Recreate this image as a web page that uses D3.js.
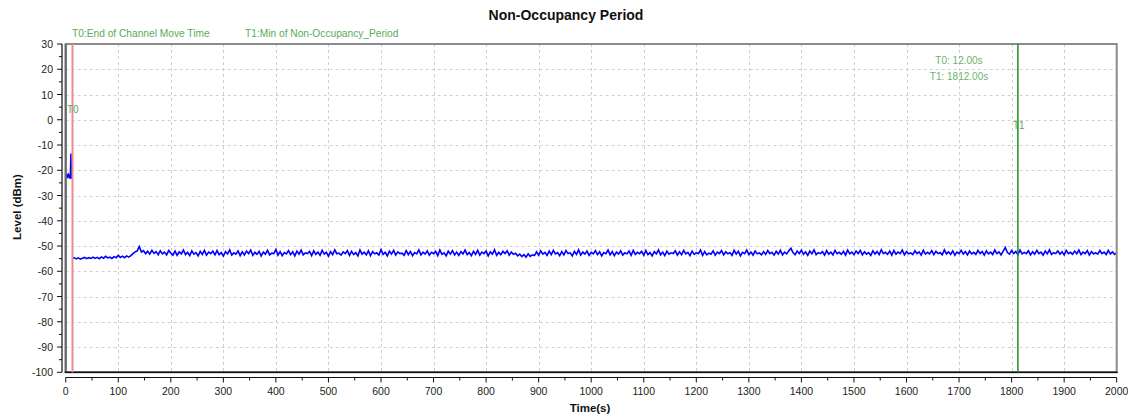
<!DOCTYPE html>
<html><head><meta charset="utf-8">
<script src="https://cdn.jsdelivr.net/npm/d3@7"></script>
<style>
html,body{margin:0;padding:0;background:#fff;}
svg text{font-family:"Liberation Sans",Arial,sans-serif;}
</style></head>
<body><svg id="c" width="1128" height="416"></svg>
<script>
// ---------- data ----------
const title = "Non-Occupancy Period";
const xLabel = "Time(s)";
const yLabel = "Level (dBm)";
const legendLabels = ["T0:End of Channel Move Time", "T1:Min of Non-Occupancy_Period"];
const markerTimes = [12, 1812];          // T0, T1 (s)
const markerNames = ["T0", "T1"];
const markerReadout = ["T0: 12.00s", "T1: 1812.00s"];
const xTicks = d3.range(0, 2001, 100);
const yTicks = d3.range(-100, 31, 10);

// before T0 (1 s samples starting at 0 s)
const preStart = 0, preStep = 1;
const preLevels = [-22.0,-22.4,-21.8,-22.6,-22.1,-21.7,-22.5,-22.2,-23.3,-21.9,-13.4,-23.5];

// from T0 (4 s samples starting at 12 s)
const postStart = 12, postStep = 4;
const postLevels = [
-55.0,-54.6,-55.1,-54.7,-55.2,-54.8,-54.5,-55.0,-54.6,-54.9,-54.4,-54.9,-54.5,-55.0,-54.3,-54.8,-54.1,-54.7,-54.4,-54.9,-54.2,-54.6,-53.7,-54.5,-54.0,-54.6,-53.9,-54.4,-53.8,
-53.0,-52.3,-52.0,-50.2,-52.4,-51.8,-53.0,-52.1,-53.2,-51.7,-52.9,-52.2,-53.4,-51.9,-53.1,-52.4,-53.5,-51.8,-52.8,-53.6,
-52.0,-53.7,-52.3,-53.1,-51.6,-53.4,-52.5,-53.8,-51.9,-53.2,-52.6,-53.9,-52.1,-53.3,-51.7,-53.6,-52.4,-53.0,-52.0,-53.5,
-51.8,-53.4,-52.6,-54.0,-52.2,-53.1,-51.5,-53.6,-52.7,-53.2,-51.9,-53.8,-52.3,-53.5,-52.0,-53.0,-51.6,-53.7,-52.5,-53.3,
-52.1,-53.9,-52.4,-53.2,-51.7,-53.5,-52.8,-53.0,-51.4,-53.6,-52.2,-53.8,-52.6,-53.1,-51.8,-53.4,-52.3,-53.9,-52.0,-53.2,
-51.6,-53.5,-52.7,-53.0,-52.1,-53.8,-51.9,-53.3,-52.4,-53.7,-51.7,-53.2,-52.5,-54.0,-52.2,-53.4,-51.5,-53.1,-52.8,-53.6,
-52.3,-53.0,-51.8,-53.7,-52.1,-53.4,-52.6,-53.9,-51.6,-53.2,-52.4,-53.5,-51.9,-53.8,-52.2,-53.1,-52.7,-53.6,-51.4,-53.3,
-52.5,-53.9,-52.0,-53.2,-51.7,-53.6,-52.3,-53.0,-52.8,-53.7,-51.8,-53.4,-52.2,-53.8,-52.6,-53.1,-51.5,-53.5,-52.4,-53.2,
-51.9,-53.6,-52.5,-53.0,-52.1,-53.8,-51.6,-53.3,-52.7,-53.9,-52.0,-53.2,-51.8,-53.5,-52.4,-53.7,-52.2,-53.1,-51.6,-53.4,
-52.6,-53.8,-52.1,-53.3,-51.7,-53.6,-52.4,-53.0,-52.0,-53.9,-52.3,-53.2,-51.5,-53.7,-52.5,-53.4,-52.1,-53.0,-51.9,-53.6,
-52.4,-53.3,-52.9,-53.9,-53.2,-54.2,-53.4,-54.4,-53.1,-54.1,-53.5,-53.8,-52.3,-53.6,-51.9,-53.2,-52.5,-53.7,-52.0,-53.4,
-51.7,-53.1,-52.6,-53.8,-52.2,-53.5,-51.8,-53.0,-52.7,-53.9,-52.1,-53.3,-51.5,-53.6,-52.4,-53.2,-52.0,-53.7,-52.5,-53.1,
-51.8,-53.4,-52.3,-53.9,-52.6,-53.0,-51.6,-53.5,-52.2,-53.8,-52.4,-53.2,-51.9,-53.6,-52.7,-53.1,-52.0,-53.7,-51.7,-53.3,
-52.5,-53.0,-52.1,-53.6,-51.8,-53.4,-52.6,-53.9,-52.2,-53.1,-51.5,-53.5,-52.4,-53.8,-52.0,-53.2,-52.7,-53.0,-51.9,-53.6,
-52.3,-53.4,-51.7,-53.1,-52.5,-53.8,-52.0,-53.3,-52.6,-53.0,-51.6,-53.7,-52.2,-53.5,-52.8,-53.2,-51.9,-53.6,-52.4,-53.0,
-51.8,-53.5,-52.3,-53.1,-52.6,-53.7,-51.7,-53.2,-52.1,-53.9,-52.5,-53.0,-51.6,-53.4,-52.4,-53.6,-52.0,-53.1,-52.7,-53.5,
-52.2,-53.3,-51.8,-53.0,-52.5,-53.6,-52.1,-53.2,-51.7,-53.5,-52.4,-53.1,-51.9,-50.9,-52.6,-53.4,-52.0,-53.0,-51.6,-53.3,
-52.3,-53.7,-52.0,-53.1,-51.5,-53.4,-52.6,-53.0,-52.2,-53.6,-51.8,-53.2,-52.4,-53.5,-51.7,-53.0,-52.5,-53.3,-52.1,-53.6,
-51.6,-53.1,-52.4,-53.4,-52.0,-53.0,-51.7,-53.5,-52.3,-53.2,-52.6,-53.7,-51.9,-53.1,-52.2,-53.4,-51.5,-53.0,-52.5,-53.3,
-52.0,-53.6,-51.8,-53.2,-52.4,-53.0,-51.6,-53.5,-52.2,-53.1,-52.7,-53.4,-51.9,-53.0,-52.3,-53.6,-51.7,-53.2,-52.5,-53.1,
-51.8,-53.4,-52.1,-53.0,-52.6,-53.5,-51.5,-53.1,-52.3,-53.3,-51.9,-53.6,-52.4,-53.0,-51.7,-53.2,-52.2,-53.5,-52.0,-53.1,
-52.5,-53.3,-51.7,-53.0,-52.2,-53.6,-51.9,-53.1,-52.4,-53.4,-51.6,-53.0,-52.3,-53.5,-52.0,-50.6,-52.6,-53.2,-51.8,-53.0,
-52.2,-53.4,-51.6,-53.1,-52.5,-53.0,-51.9,-53.5,-52.3,-53.2,-51.7,-53.0,-52.4,-53.6,-52.0,-53.1,-51.5,-53.3,-52.6,-53.0,
-51.9,-53.2,-52.3,-53.5,-51.7,-53.0,-52.5,-53.3,-52.0,-53.1,-51.6,-53.4,-52.4,-53.0,-51.8,-53.6,-52.2,-53.1,-52.6,-53.2,
-51.8,-53.0,-52.4,-53.4,-51.7,-53.1,-52.3,-53.3,-52.6
];

// ---------- layout ----------
const svg = d3.select("#c");
const L = 65.7, R = 1116.7, T = 44, B = 372.3;
const x = d3.scaleLinear().domain([0, 2000]).range([L, R]);
const y = d3.scaleLinear().domain([-100, 30]).range([B, T]);
const green = "#5aaa5a";

// title
svg.append("text").attr("x", 566).attr("y", 20).attr("text-anchor", "middle")
  .attr("font-size", 14).attr("font-weight", "bold").attr("fill", "#111").text(title);

// legend labels
svg.append("text").attr("x", 72).attr("y", 37).attr("font-size", 10.2).attr("fill", green).text(legendLabels[0]);
svg.append("text").attr("x", 245).attr("y", 37).attr("font-size", 10.2).attr("fill", green).text(legendLabels[1]);

// grid
const grid = svg.append("g").attr("stroke", "#cfcfcf").attr("stroke-dasharray", "3,3").attr("stroke-width", 1);
grid.selectAll("line.v").data(xTicks.filter(d => d > 0 && d < 2000)).join("line")
  .attr("x1", d => Math.round(x(d)) + 0.5).attr("x2", d => Math.round(x(d)) + 0.5).attr("y1", T).attr("y2", B);
grid.selectAll("line.h").data(yTicks.filter(d => d > -100 && d < 30)).join("line")
  .attr("y1", d => Math.round(y(d)) + 0.5).attr("y2", d => Math.round(y(d)) + 0.5).attr("x1", L).attr("x2", R);

// plot frame
svg.append("rect").attr("x", L).attr("y", T).attr("width", R - L).attr("height", B - T)
  .attr("fill", "none").attr("stroke", "#8c8c8c").attr("stroke-width", 2);
svg.append("line").attr("x1", L).attr("x2", L).attr("y1", T).attr("y2", B).attr("stroke", "#666").attr("stroke-width", 2);
svg.append("line").attr("x1", L - 1).attr("x2", R + 1).attr("y1", B).attr("y2", B).attr("stroke", "#111").attr("stroke-width", 1.5);

// data lines
svg.append("clipPath").attr("id", "pc").append("rect")
  .attr("x", L + 1).attr("y", T + 1).attr("width", R - L - 2).attr("height", B - T - 2);
const line = d3.line().x(d => x(d[0])).y(d => y(d[1]));
const pre = preLevels.map((v, i) => [preStart + i * preStep, v]);
const post = postLevels.map((v, i) => [postStart + i * postStep, v]);
const dg = svg.append("g").attr("clip-path", "url(#pc)");
[pre, post].forEach(s => dg.append("path").datum(s).attr("d", line)
  .attr("fill", "none").attr("stroke", "#0000ff").attr("stroke-width", 1.6));

// markers
svg.append("line").attr("x1", x(markerTimes[0]) + 0.5).attr("x2", x(markerTimes[0]) + 0.5).attr("y1", T).attr("y2", B)
  .attr("stroke", "#f08a8a").attr("stroke-width", 2);
svg.append("line").attr("x1", x(markerTimes[1])).attr("x2", x(markerTimes[1])).attr("y1", T).attr("y2", B)
  .attr("stroke", "#1f8f1f").attr("stroke-width", 1.5);
svg.append("text").attr("x", x(markerTimes[0]) - 5).attr("y", 113).attr("font-size", 10).attr("fill", green).text(markerNames[0]);
svg.append("text").attr("x", x(markerTimes[1]) - 5).attr("y", 129).attr("font-size", 10).attr("fill", green).text(markerNames[1]);
svg.append("text").attr("x", 959).attr("y", 64).attr("text-anchor", "middle").attr("font-size", 10).attr("fill", "#6ab46a").text(markerReadout[0]);
svg.append("text").attr("x", 959).attr("y", 80).attr("text-anchor", "middle").attr("font-size", 10).attr("fill", "#6ab46a").text(markerReadout[1]);

// y axis
const yAxis = svg.append("g").attr("transform", "translate(62,0)");
yAxis.append("line").attr("x1", 0).attr("x2", 0).attr("y1", T).attr("y2", B).attr("stroke", "#111").attr("stroke-width", 1.2);
yAxis.selectAll("line.mn").data(d3.range(-95, 30, 10)).join("line")
  .attr("x1", 0).attr("x2", -3).attr("y1", d => y(d)).attr("y2", d => y(d)).attr("stroke", "#111");
yAxis.selectAll("line.mj").data(yTicks).join("line")
  .attr("x1", 0).attr("x2", -5).attr("y1", d => y(d)).attr("y2", d => y(d)).attr("stroke", "#111");
yAxis.selectAll("text").data(yTicks).join("text")
  .attr("x", -9).attr("y", d => y(d) + 4).attr("text-anchor", "end").attr("font-size", 10.5).attr("fill", "#222").text(d => d);

// x axis
const xAxis = svg.append("g").attr("transform", "translate(0,377.5)");
xAxis.append("line").attr("x1", L).attr("x2", R).attr("y1", 0).attr("y2", 0).attr("stroke", "#111").attr("stroke-width", 1.2);
xAxis.selectAll("line.mn").data(d3.range(50, 2000, 100)).join("line")
  .attr("x1", d => x(d)).attr("x2", d => x(d)).attr("y1", 0).attr("y2", 3).attr("stroke", "#111");
xAxis.selectAll("line.mj").data(xTicks).join("line")
  .attr("x1", d => x(d)).attr("x2", d => x(d)).attr("y1", 0).attr("y2", 5).attr("stroke", "#111");
xAxis.selectAll("text").data(xTicks).join("text")
  .attr("x", d => x(d)).attr("y", 17.5).attr("text-anchor", "middle").attr("font-size", 10.5).attr("fill", "#222").text(d => d);

// axis titles
svg.append("text").attr("x", 590).attr("y", 412).attr("text-anchor", "middle")
  .attr("font-size", 11.5).attr("font-weight", "bold").attr("fill", "#111").text(xLabel);
svg.append("text").attr("transform", "translate(21,207) rotate(-90)").attr("text-anchor", "middle")
  .attr("font-size", 11.5).attr("font-weight", "bold").attr("fill", "#111").text(yLabel);
</script></body></html>
